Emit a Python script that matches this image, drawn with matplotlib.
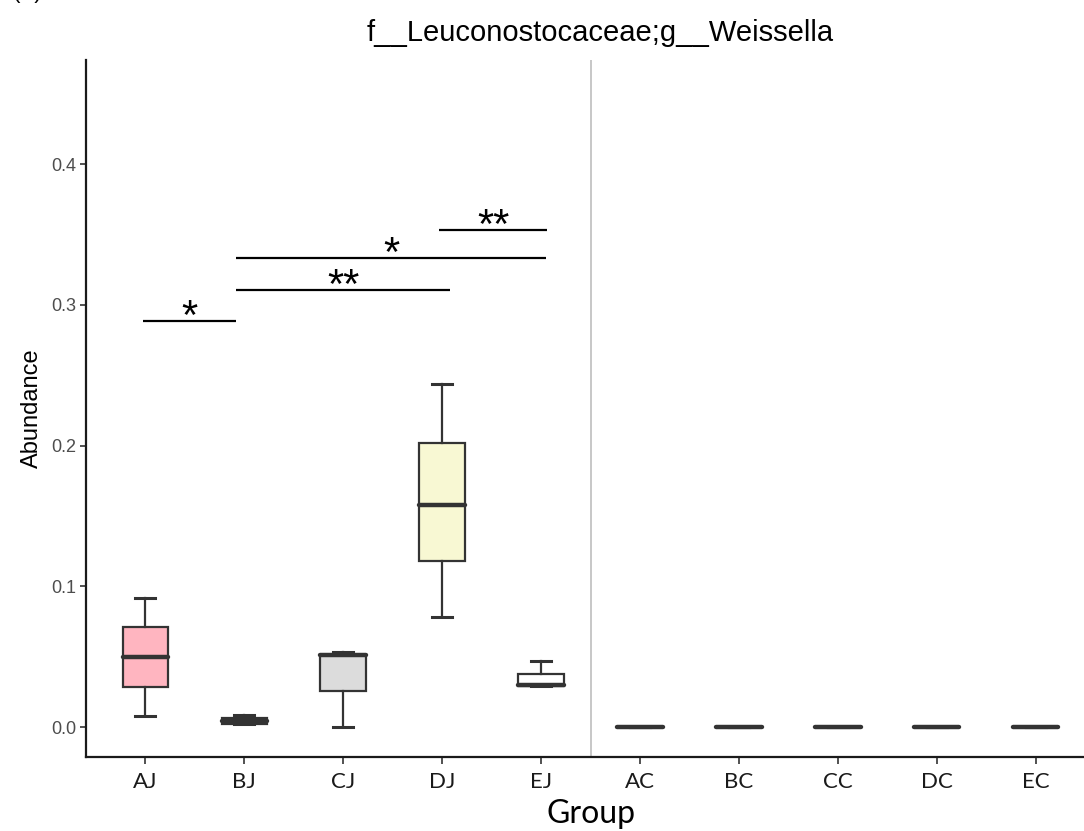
import matplotlib
matplotlib.use('Agg')
import matplotlib.pyplot as plt

# Datos (cuartiles y bigotes por grupo)
groups = ['AJ', 'BJ', 'CJ', 'DJ', 'EJ', 'AC', 'BC', 'CC', 'DC', 'EC']
whislo = [0.008, 0.002, 0.000, 0.078, 0.029, 0.0, 0.0, 0.0, 0.0, 0.0]
q1 = [0.0285, 0.002, 0.0255, 0.118, 0.029, 0.0, 0.0, 0.0, 0.0, 0.0]
med = [0.050, 0.004, 0.0515, 0.158, 0.030, 0.0, 0.0, 0.0, 0.0, 0.0]
q3 = [0.071, 0.0062, 0.0515, 0.2015, 0.038, 0.0, 0.0, 0.0, 0.0, 0.0]
whishi = [0.092, 0.0088, 0.053, 0.244, 0.047, 0.0, 0.0, 0.0, 0.0, 0.0]
fills = ['#FFB5C0', '#8C8C55', '#DCDCDC', '#F8F8D3', '#FFFFFF',
         '#FFFFFF', '#FFFFFF', '#FFFFFF', '#FFFFFF', '#FFFFFF']

# Comparaciones significativas: (desde, hasta, altura, etiqueta)
sig_from = [0.98, 1.92, 1.92, 3.97]
sig_to = [1.92, 4.08, 5.05, 5.06]
sig_y = [0.2885, 0.3105, 0.3332, 0.3531]
sig_lab = ['*', '**', '*', '**']

W, H = 1084, 831
fig = plt.figure(figsize=(W / 100, H / 100), dpi=100)
ax = fig.add_axes([86 / W, (H - 757) / H, (1095 - 86) / W, (757 - 60) / H])

stats = []
for i, g in enumerate(groups):
    stats.append({'label': g, 'whislo': whislo[i], 'q1': q1[i], 'med': med[i],
                  'q3': q3[i], 'whishi': whishi[i], 'fliers': []})

pos = list(range(1, len(groups) + 1))
bp = ax.bxp(stats, positions=pos, widths=0.46, patch_artist=True,
            showfliers=False,
            boxprops=dict(edgecolor='#333333', linewidth=1.6),
            whiskerprops=dict(color='#333333', linewidth=1.6),
            capprops=dict(color='#333333', linewidth=2.2),
            medianprops=dict(color='#333333', linewidth=3.2, solid_capstyle='round'))
for patch, c in zip(bp['boxes'], fills):
    patch.set_facecolor(c)
for cap in bp['caps']:
    x0, x1 = cap.get_xdata()
    xc = (x0 + x1) / 2
    cap.set_xdata([xc - 0.1, xc + 0.1])

# Línea vertical que separa J y C
ax.axvline(5.5, color='#BEBEBE', linewidth=1.2, zorder=0)

# Barras de significación
for a, b, y, lab in zip(sig_from, sig_to, sig_y, sig_lab):
    ax.plot([a, b], [y, y], color='black', linewidth=1.6, solid_capstyle='butt')
    ax.annotate(lab, xy=((a + b) / 2, y), xytext=(0, -6),
                textcoords='offset points', ha='center', va='baseline',
                fontsize=30, family='Liberation Sans')

ax.set_xlim(0.4, 10.6)
ax.set_ylim(-0.0213, 0.474)
ax.set_yticks([0.0, 0.1, 0.2, 0.3, 0.4])
ax.set_yticklabels(['0.0', '0.1', '0.2', '0.3', '0.4'])
ax.set_xticks(pos)
ax.set_xticklabels(groups)

for s in ['top', 'right']:
    ax.spines[s].set_visible(False)
for s in ['left', 'bottom']:
    ax.spines[s].set_linewidth(1.6)
    ax.spines[s].set_color('#1A1A1A')

ax.tick_params(axis='y', length=4, width=1.2, colors='#333333',
               labelcolor='#4D4D4D', labelsize=13, pad=3)
ax.tick_params(axis='x', length=5, width=1.2, colors='#333333',
               labelcolor='#1A1A1A', labelsize=16, pad=6)
for t in ax.get_xticklabels():
    t.set_family('Lato')
for t in ax.get_yticklabels():
    t.set_family('Liberation Sans')

ax.set_xlabel('Group', fontsize=23, family='Lato', labelpad=5)
ax.set_ylabel('Abundance', fontsize=17, family='Liberation Sans', labelpad=6)

fig.text(600 / W, 1 - 33 / H, 'f__Leuconostocaceae;g__Weissella',
         ha='center', va='center', fontsize=21, family='Liberation Sans')
fig.text(0.012, 1.003, '(A)', ha='left', va='baseline', fontsize=16,
         family='Liberation Sans')

fig.savefig('out.png', dpi=100)
